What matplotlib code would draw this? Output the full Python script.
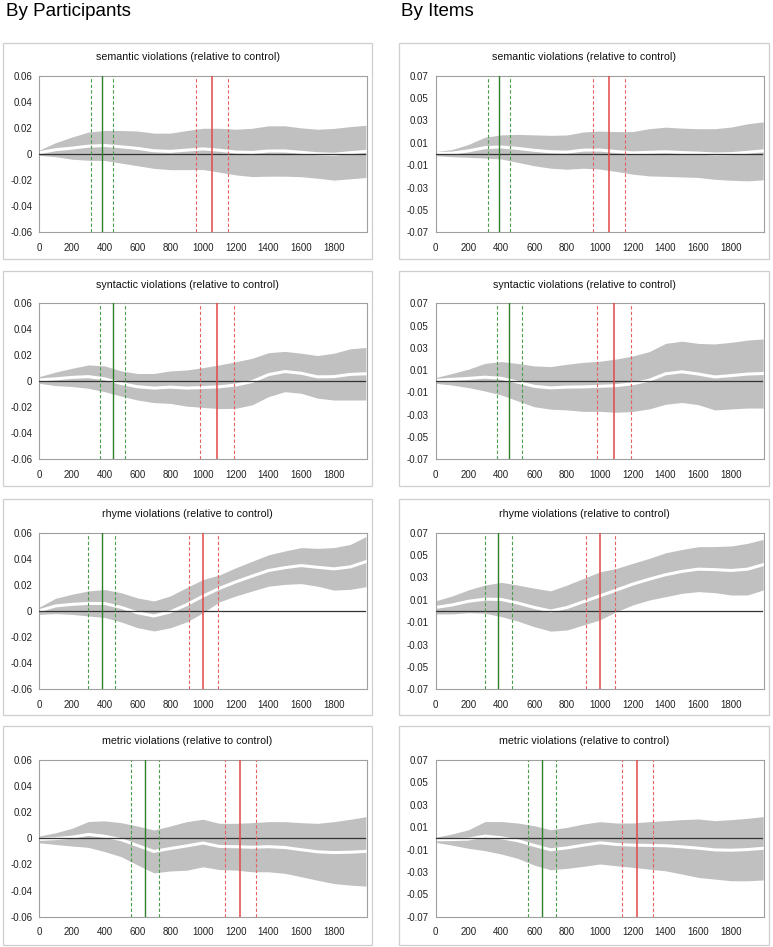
import matplotlib
matplotlib.use("Agg")
import matplotlib.pyplot as plt
from matplotlib.patches import Rectangle
import numpy as np

plt.rcParams['font.family'] = ['Liberation Sans', 'DejaVu Sans']

# ---------------- data ----------------
time_ms = [0, 100, 200, 300, 400, 500, 600, 700, 800, 900, 1000,
           1100, 1200, 1300, 1400, 1500, 1600, 1700, 1800, 1900, 1995]

conditions = ["semantic", "syntactic", "rhyme", "metric"]
column_titles = ["By Participants", "By Items"]

# By participants: mean difference and half-width of the confidence band
p_semantic_mean = [0.001, 0.0033, 0.0045, 0.006, 0.0065, 0.0055, 0.0043, 0.0025, 0.002, 0.003, 0.0039,
                   0.0029, 0.0015, 0.0012, 0.0023, 0.0023, 0.0013, 0.0002, -0.0002, 0.001, 0.002]
p_semantic_ci = [0.002, 0.0054, 0.0085, 0.0108, 0.0115, 0.0125, 0.0133, 0.0135, 0.014, 0.015, 0.0158,
                 0.0168, 0.0175, 0.0185, 0.0193, 0.0193, 0.0187, 0.0188, 0.0198, 0.02, 0.02]
p_syntactic_mean = [0.001, 0.0019, 0.003, 0.0036, 0.0019, -0.0017, -0.0042, -0.0052, -0.0045, -0.0052, -0.0048,
                    -0.0042, -0.0029, -0.0002, 0.0051, 0.0075, 0.0062, 0.0034, 0.0036, 0.0053, 0.0058]
p_syntactic_ci = [0.0026, 0.0052, 0.007, 0.009, 0.0099, 0.0097, 0.0102, 0.0112, 0.0125, 0.0139, 0.0153,
                  0.0168, 0.0179, 0.0179, 0.0169, 0.0155, 0.0154, 0.0164, 0.018, 0.0197, 0.0202]
p_rhyme_mean = [0.0002, 0.0039, 0.0051, 0.0058, 0.0057, 0.0028, -0.0014, -0.0038, -0.0007, 0.0048, 0.0114,
                0.0173, 0.0223, 0.0267, 0.031, 0.0332, 0.0348, 0.0335, 0.0323, 0.0338, 0.0378]
p_rhyme_ci = [0.0028, 0.0059, 0.0077, 0.0096, 0.0107, 0.0112, 0.0114, 0.0115, 0.0122, 0.0132, 0.0127,
              0.0103, 0.0108, 0.0114, 0.012, 0.0128, 0.0138, 0.0145, 0.0163, 0.0172, 0.0192]
p_metric_mean = [-0.0008, -0.0002, 0.0009, 0.003, 0.0016, -0.001, -0.0055, -0.01, -0.0078, -0.0058, -0.0036,
                 -0.0062, -0.0064, -0.0068, -0.0064, -0.007, -0.0087, -0.0103, -0.0109, -0.0106, -0.01]
p_metric_ci = [0.0026, 0.0045, 0.0068, 0.0099, 0.0118, 0.013, 0.0149, 0.0164, 0.0172, 0.0186, 0.0182,
               0.0177, 0.0179, 0.0188, 0.0192, 0.0198, 0.0207, 0.0218, 0.0237, 0.0252, 0.0266]

# By items
i_semantic_mean = [0.0003, 0.0008, 0.0028, 0.0057, 0.0063, 0.005, 0.0033, 0.002, 0.0017, 0.0035, 0.0035,
                   0.0022, 0.001, 0.0015, 0.002, 0.0013, 0.0008, 0.0, 0.0003, 0.0015, 0.0028]
i_semantic_ci = [0.0018, 0.0032, 0.0058, 0.0093, 0.0108, 0.0125, 0.0138, 0.0147, 0.0153, 0.0162, 0.017,
                 0.0178, 0.019, 0.0211, 0.022, 0.0218, 0.0218, 0.0226, 0.0238, 0.0255, 0.0259]
i_syntactic_mean = [0.0008, 0.0018, 0.0026, 0.0037, 0.0027, -0.0008, -0.0045, -0.0059, -0.0052, -0.005, -0.0045,
                    -0.0039, -0.0022, 0.0009, 0.0067, 0.0085, 0.0065, 0.0039, 0.0051, 0.0065, 0.007]
i_syntactic_ci = [0.0026, 0.0052, 0.0083, 0.0124, 0.015, 0.0168, 0.0183, 0.0191, 0.0205, 0.022, 0.0225,
                  0.0239, 0.0249, 0.0257, 0.0273, 0.0275, 0.0275, 0.0296, 0.0299, 0.0305, 0.031]
i_rhyme_mean = [0.0032, 0.0054, 0.0087, 0.0106, 0.0103, 0.0071, 0.0032, 0.0, 0.0031, 0.0083, 0.0135,
                0.0187, 0.024, 0.0284, 0.0324, 0.0354, 0.0374, 0.037, 0.0362, 0.0374, 0.0414]
i_rhyme_ci = [0.0059, 0.008, 0.0102, 0.0126, 0.0153, 0.0161, 0.0172, 0.018, 0.0201, 0.0208, 0.0215,
              0.0193, 0.0186, 0.0186, 0.0196, 0.0196, 0.0201, 0.0206, 0.0219, 0.0231, 0.0226]
i_metric_mean = [-0.0013, -0.0011, -0.0006, 0.002, 0.0005, -0.0021, -0.0063, -0.0102, -0.0085, -0.0061, -0.004,
                 -0.0054, -0.0061, -0.0063, -0.0066, -0.0076, -0.0088, -0.0103, -0.0106, -0.01, -0.0089]
i_metric_ci = [0.0023, 0.005, 0.0083, 0.013, 0.0145, 0.0158, 0.0176, 0.0179, 0.0183, 0.0189, 0.0189,
               0.0191, 0.0198, 0.0212, 0.0224, 0.0243, 0.0261, 0.0261, 0.0273, 0.0279, 0.0283]

# onset estimates (green) and peak estimates (red): centre, lower, upper (ms)
green_markers = {"semantic": (385, 317, 453), "syntactic": (449, 373, 525),
                 "rhyme": (380, 300, 465), "metric": (647, 563, 734)}
red_markers = {"semantic": (1057, 957, 1155), "syntactic": (1085, 983, 1192),
               "rhyme": (1002, 913, 1093), "metric": (1228, 1137, 1324)}

p_yticks = [0.06, 0.04, 0.02, 0, -0.02, -0.04, -0.06]
p_ylabels = ["0.06", "0.04", "0.02", "0", "-0.02", "-0.04", "-0.06"]
i_yticks = [0.07, 0.05, 0.03, 0.01, -0.01, -0.03, -0.05, -0.07]
i_ylabels = ["0.07", "0.05", "0.03", "0.01", "-0.01", "-0.03", "-0.05", "-0.07"]
xticks = [0, 200, 400, 600, 800, 1000, 1200, 1400, 1600, 1800]

series = {
    ("p", "semantic"): (p_semantic_mean, p_semantic_ci),
    ("p", "syntactic"): (p_syntactic_mean, p_syntactic_ci),
    ("p", "rhyme"): (p_rhyme_mean, p_rhyme_ci),
    ("p", "metric"): (p_metric_mean, p_metric_ci),
    ("i", "semantic"): (i_semantic_mean, i_semantic_ci),
    ("i", "syntactic"): (i_syntactic_mean, i_syntactic_ci),
    ("i", "rhyme"): (i_rhyme_mean, i_rhyme_ci),
    ("i", "metric"): (i_metric_mean, i_metric_ci),
}

# ---------------- layout (pixels) ----------------
W, H = 773, 947
fig = plt.figure(figsize=(W / 100, H / 100), dpi=100)

def fx(x):
    return x / W

def fy(y):
    return 1 - y / H

col_plot = [(39.3, 366.7), (435.7, 764.0)]
col_box = [(3.3, 371.7), (399.3, 769.0)]
row_plot = [(75.7, 232.3), (303.3, 459.3), (532.7, 689.3), (760.0, 916.7)]
row_box = [(42.7, 259.0), (270.7, 485.7), (499.3, 715.0), (726.0, 945.0)]

GRAY = "#c0c0c0"
GREEN = "#2d7f2d"
GREEN_D = "#4a9e4a"
RED = "#e04848"
RED_D = "#e86060"

fig.text(fx(6), fy(3.5), column_titles[0], fontsize=13.5, ha="left", va="top")
fig.text(fx(401), fy(3.5), column_titles[1], fontsize=13.5, ha="left", va="top")

for c, key in enumerate(["p", "i"]):
    for r, cond in enumerate(conditions):
        bx0, bx1 = col_box[c]
        by0, by1 = row_box[r]
        fig.add_artist(Rectangle((fx(bx0), fy(by1)), fx(bx1) - fx(bx0), fy(by0) - fy(by1),
                                 transform=fig.transFigure, facecolor="white",
                                 edgecolor="#cfcfcf", linewidth=0.9, zorder=0))
        fig.text(fx((bx0 + bx1) / 2), fy(by0 + 14.5),
                 f"{cond} violations (relative to control)",
                 fontsize=7.7, ha="center", va="center", color="#111111")

        px0, px1 = col_plot[c]
        py0, py1 = row_plot[r]
        ax = fig.add_axes([fx(px0), fy(py1), fx(px1) - fx(px0), fy(py0) - fy(py1)])
        mean, ci = series[(key, cond)]
        t = np.array(time_ms)
        m = np.array(mean)
        e = np.array(ci)
        ax.fill_between(t, m - e, m + e, color=GRAY, linewidth=0, zorder=1)
        ax.plot(t, m, color="white", linewidth=2.2, zorder=2)
        ax.axhline(0, xmin=0, xmax=0.995, color="#333333", linewidth=0.9, zorder=3)

        g = green_markers[cond]
        rd = red_markers[cond]
        dash = (0, (3, 2))
        ax.axvline(g[0], color=GREEN, linewidth=1.0, zorder=4)
        ax.axvline(g[1], color=GREEN_D, linewidth=0.8, linestyle=dash, zorder=4)
        ax.axvline(g[2], color=GREEN_D, linewidth=0.8, linestyle=dash, zorder=4)
        ax.axvline(rd[0], color=RED, linewidth=1.1, zorder=4)
        ax.axvline(rd[1], color=RED_D, linewidth=0.8, linestyle=dash, zorder=4)
        ax.axvline(rd[2], color=RED_D, linewidth=0.8, linestyle=dash, zorder=4)

        ax.set_xlim(0, 2000)
        if key == "p":
            ax.set_ylim(-0.06, 0.06)
            ax.set_yticks(p_yticks)
            ax.set_yticklabels(p_ylabels)
        else:
            ax.set_ylim(-0.07, 0.07)
            ax.set_yticks(i_yticks)
            ax.set_yticklabels(i_ylabels)
        ax.set_xticks(xticks)
        ax.set_xticklabels([str(v) for v in xticks])
        ax.tick_params(axis="both", length=0, labelsize=7, colors="#222222")
        ax.tick_params(axis="x", pad=7.5)
        ax.tick_params(axis="y", pad=5)
        for s in ax.spines.values():
            s.set_color("#a0a0a0")
            s.set_linewidth(0.8)

fig.savefig("out.png", dpi=100)
